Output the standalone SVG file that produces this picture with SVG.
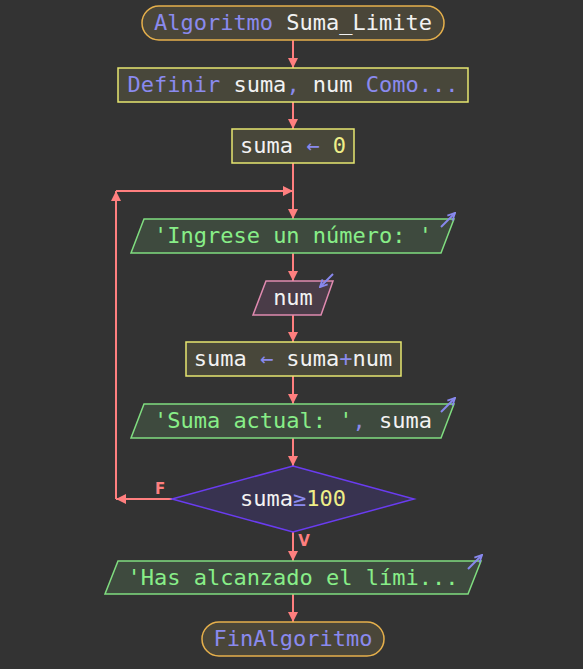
<svg xmlns="http://www.w3.org/2000/svg" width="583" height="669" viewBox="0 0 583 669">
  <defs>
    <marker id="ah" viewBox="0 0 10 10" refX="10" refY="5" markerWidth="10" markerHeight="10" markerUnits="userSpaceOnUse" orient="auto">
      <path d="M0,0 L10,5 L0,10 Z" fill="#ff7f7f"/>
    </marker>
    <marker id="io" viewBox="0 0 10 10" refX="9" refY="5" markerWidth="9" markerHeight="9" markerUnits="userSpaceOnUse" orient="auto">
      <path d="M1,1 L9,5 L1,9" fill="none" stroke="#8888ee" stroke-width="2"/>
    </marker>
    <style>
      text { font-family: "DejaVu Sans Mono", "Liberation Mono", monospace; font-size: 22px; text-anchor: middle; fill: #f2f2f2; }
      .kw { fill: #8a8aee; }
      .num { fill: #eeee88; }
      .str { fill: #88ee88; }
      .term { fill: #4a4639; stroke: #e6b04c; stroke-width: 1.5; }
      .proc { fill: #48473a; stroke: #e6e670; stroke-width: 1.5; }
      .out { fill: #3e4a3e; stroke: #80dd80; stroke-width: 1.5; }
      .in { fill: #4a3c48; stroke: #e08ab0; stroke-width: 1.5; }
      .dec { fill: #383350; stroke: #6a3cf0; stroke-width: 1.5; }
      .edge { fill: none; stroke: #ff7f7f; stroke-width: 2; }
      .icon { fill: none; stroke: #8888ee; stroke-width: 2; }
      .lbl { font-family: "DejaVu Sans", "Liberation Sans", sans-serif; font-size: 15px; font-weight: bold; fill: #ff7f7f; }
    </style>
  </defs>
  <rect width="583" height="669" fill="#333333"/>

  <g id="connectors">
    <path class="edge" d="M293,40 V68" marker-end="url(#ah)"/>
    <path class="edge" d="M293,102 V129" marker-end="url(#ah)"/>
    <path class="edge" d="M293,163 V219" marker-end="url(#ah)"/>
    <path class="edge" d="M293,253 V281" marker-end="url(#ah)"/>
    <path class="edge" d="M293,315 V342" marker-end="url(#ah)"/>
    <path class="edge" d="M293,376 V404" marker-end="url(#ah)"/>
    <path class="edge" d="M293,438 V466" marker-end="url(#ah)"/>
    <path class="edge" d="M293,532 V561" marker-end="url(#ah)"/>
    <path class="edge" d="M293,594 V622" marker-end="url(#ah)"/>
    <!-- loop back when the condition is false -->
    <path class="edge" d="M172,499 H116" marker-end="url(#ah)"/>
    <path class="edge" d="M116,499 V191" marker-end="url(#ah)"/>
    <path class="edge" d="M116,191 H293" marker-end="url(#ah)"/>
    <text class="lbl" x="160" y="494">F</text>
    <text class="lbl" x="304" y="546">V</text>
  </g>

  <g id="start">
    <rect class="term" x="142" y="6" width="302" height="34" rx="17"/>
    <text x="293" y="30"><tspan class="kw">Algoritmo</tspan> Suma_Limite</text>
  </g>

  <g id="define">
    <rect class="proc" x="118" y="68" width="350" height="34"/>
    <text x="293" y="92"><tspan class="kw">Definir</tspan> suma<tspan class="kw">,</tspan> num <tspan class="kw">Como...</tspan></text>
  </g>

  <g id="init">
    <rect class="proc" x="232" y="129" width="122" height="34"/>
    <text x="293" y="153">suma <tspan class="kw">←</tspan> <tspan class="num">0</tspan></text>
  </g>

  <g id="prompt">
    <polygon class="out" points="144,219 454,219 441,253 131,253"/>
    <text x="293" y="243" class="str">'Ingrese un número: '</text>
    <path class="icon" d="M441,227 L455,213" marker-end="url(#io)"/>
  </g>

  <g id="read">
    <polygon class="in" points="266,281 333,281 321,315 253,315"/>
    <text x="293" y="305">num</text>
    <path class="icon" d="M333,274 L320,287" marker-end="url(#io)"/>
  </g>

  <g id="accumulate">
    <rect class="proc" x="186" y="342" width="215" height="34"/>
    <text x="293" y="366">suma <tspan class="kw">←</tspan> suma<tspan class="kw">+</tspan>num</text>
  </g>

  <g id="show">
    <polygon class="out" points="144,404 454,404 441,438 131,438"/>
    <text x="293" y="428"><tspan class="str">'Suma actual: '</tspan><tspan class="kw">,</tspan> suma</text>
    <path class="icon" d="M441,412 L455,398" marker-end="url(#io)"/>
  </g>

  <g id="check">
    <polygon class="dec" points="293,466 414,499 293,532 172,499"/>
    <text x="293" y="506">suma<tspan class="kw">≥</tspan><tspan class="num">100</tspan></text>
  </g>

  <g id="done">
    <polygon class="out" points="118,561 481,561 468,594 105,594"/>
    <text x="293" y="585" class="str">'Has alcanzado el lími...</text>
    <path class="icon" d="M468,569 L482,555" marker-end="url(#io)"/>
  </g>

  <g id="end">
    <rect class="term" x="202" y="622" width="182" height="34" rx="17"/>
    <text x="293" y="646" class="kw">FinAlgoritmo</text>
  </g>
</svg>
